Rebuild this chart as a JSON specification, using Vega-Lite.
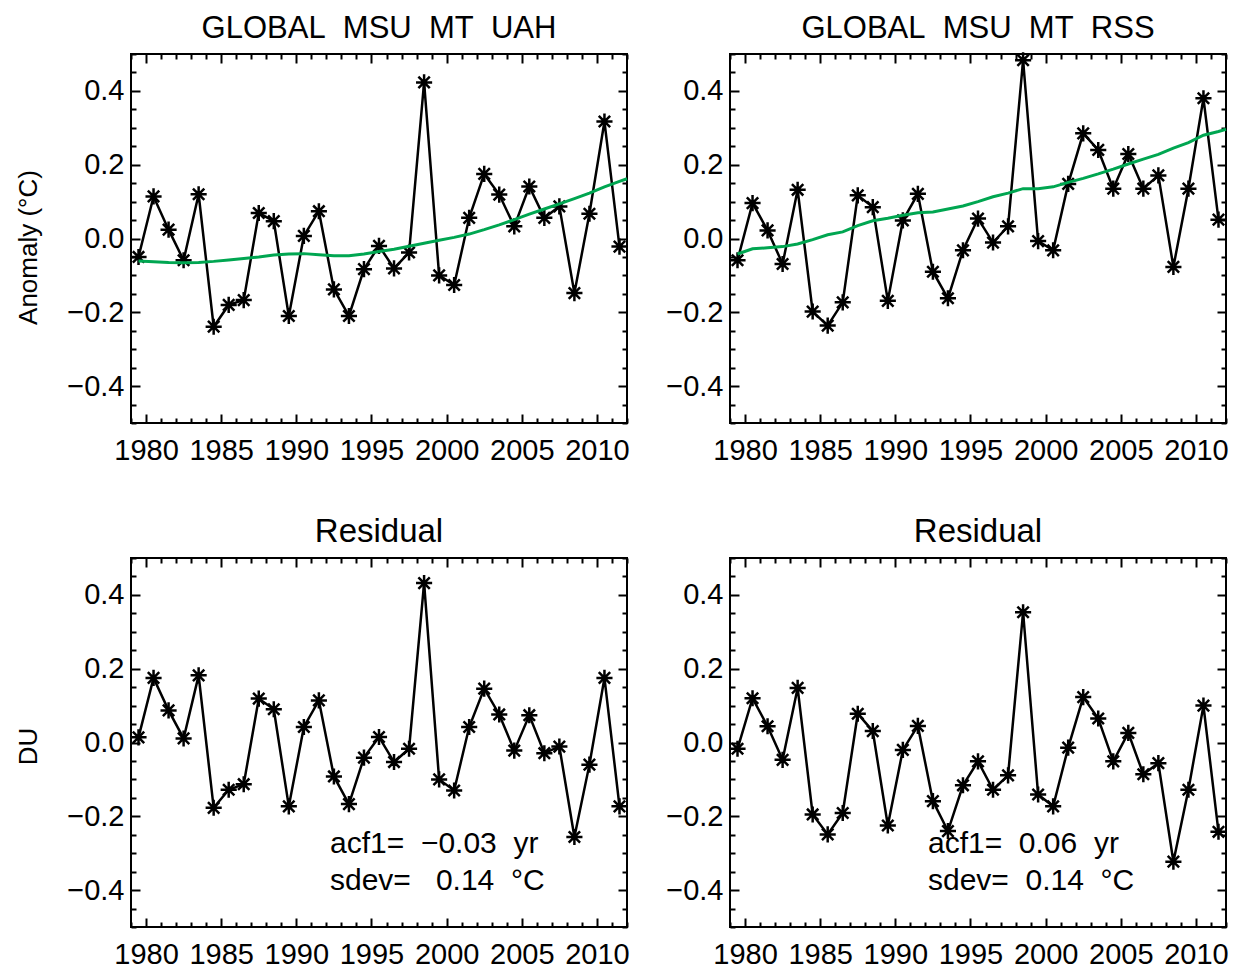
{
  "$schema": "https://vega.github.io/schema/vega-lite/v6.json",
  "padding": {"left": 14, "top": 12, "right": 4, "bottom": 0},
  "background": "white",
  "datasets": {
    "uah": [
      {"t": 1979.5, "v": -0.05}, {"t": 1980.5, "v": 0.114}, {"t": 1981.5, "v": 0.024}, {"t": 1982.5, "v": -0.059},
      {"t": 1983.5, "v": 0.12}, {"t": 1984.5, "v": -0.239}, {"t": 1985.5, "v": -0.18}, {"t": 1986.5, "v": -0.167},
      {"t": 1987.5, "v": 0.069}, {"t": 1988.5, "v": 0.047}, {"t": 1989.5, "v": -0.21}, {"t": 1990.5, "v": 0.007},
      {"t": 1991.5, "v": 0.074}, {"t": 1992.5, "v": -0.138}, {"t": 1993.5, "v": -0.21}, {"t": 1994.5, "v": -0.083},
      {"t": 1995.5, "v": -0.02}, {"t": 1996.5, "v": -0.081}, {"t": 1997.5, "v": -0.038}, {"t": 1998.5, "v": 0.423},
      {"t": 1999.5, "v": -0.1}, {"t": 2000.5, "v": -0.126}, {"t": 2001.5, "v": 0.056}, {"t": 2002.5, "v": 0.175},
      {"t": 2003.5, "v": 0.119}, {"t": 2004.5, "v": 0.033}, {"t": 2005.5, "v": 0.141}, {"t": 2006.5, "v": 0.056},
      {"t": 2007.5, "v": 0.087}, {"t": 2008.5, "v": -0.148}, {"t": 2009.5, "v": 0.067}, {"t": 2010.5, "v": 0.317},
      {"t": 2011.5, "v": -0.022}
    ],
    "uah_trend": [
      {"t": 1979.5, "v": -0.061}, {"t": 1980.5, "v": -0.063}, {"t": 1981.5, "v": -0.065}, {"t": 1982.5, "v": -0.066},
      {"t": 1983.5, "v": -0.065}, {"t": 1984.5, "v": -0.062}, {"t": 1985.5, "v": -0.058}, {"t": 1986.5, "v": -0.054},
      {"t": 1987.5, "v": -0.05}, {"t": 1988.5, "v": -0.045}, {"t": 1989.5, "v": -0.042}, {"t": 1990.5, "v": -0.041},
      {"t": 1991.5, "v": -0.044}, {"t": 1992.5, "v": -0.047}, {"t": 1993.5, "v": -0.047}, {"t": 1994.5, "v": -0.042},
      {"t": 1995.5, "v": -0.035}, {"t": 1996.5, "v": -0.029}, {"t": 1997.5, "v": -0.021}, {"t": 1998.5, "v": -0.013},
      {"t": 1999.5, "v": -0.005}, {"t": 2000.5, "v": 0.003}, {"t": 2001.5, "v": 0.012}, {"t": 2002.5, "v": 0.024},
      {"t": 2003.5, "v": 0.037}, {"t": 2004.5, "v": 0.051}, {"t": 2005.5, "v": 0.066}, {"t": 2006.5, "v": 0.08},
      {"t": 2007.5, "v": 0.094}, {"t": 2008.5, "v": 0.108}, {"t": 2009.5, "v": 0.123}, {"t": 2010.5, "v": 0.14},
      {"t": 2011.5, "v": 0.155}, {"t": 2012, "v": 0.162}
    ],
    "rss": [
      {"t": 1979.5, "v": -0.059}, {"t": 1980.5, "v": 0.096}, {"t": 1981.5, "v": 0.022}, {"t": 1982.5, "v": -0.069},
      {"t": 1983.5, "v": 0.132}, {"t": 1984.5, "v": -0.198}, {"t": 1985.5, "v": -0.236}, {"t": 1986.5, "v": -0.173},
      {"t": 1987.5, "v": 0.117}, {"t": 1988.5, "v": 0.085}, {"t": 1989.5, "v": -0.169}, {"t": 1990.5, "v": 0.049},
      {"t": 1991.5, "v": 0.121}, {"t": 1992.5, "v": -0.09}, {"t": 1993.5, "v": -0.162}, {"t": 1994.5, "v": -0.032},
      {"t": 1995.5, "v": 0.054}, {"t": 1996.5, "v": -0.011}, {"t": 1997.5, "v": 0.033}, {"t": 1998.5, "v": 0.483},
      {"t": 1999.5, "v": -0.007}, {"t": 2000.5, "v": -0.032}, {"t": 2001.5, "v": 0.148}, {"t": 2002.5, "v": 0.285},
      {"t": 2003.5, "v": 0.24}, {"t": 2004.5, "v": 0.135}, {"t": 2005.5, "v": 0.229}, {"t": 2006.5, "v": 0.135},
      {"t": 2007.5, "v": 0.171}, {"t": 2008.5, "v": -0.077}, {"t": 2009.5, "v": 0.135}, {"t": 2010.5, "v": 0.38},
      {"t": 2011.5, "v": 0.051}
    ],
    "rss_trend": [
      {"t": 1979.5, "v": -0.042}, {"t": 1980.5, "v": -0.028}, {"t": 1981.5, "v": -0.025}, {"t": 1982.5, "v": -0.022},
      {"t": 1983.5, "v": -0.015}, {"t": 1984.5, "v": -0.003}, {"t": 1985.5, "v": 0.01}, {"t": 1986.5, "v": 0.018},
      {"t": 1987.5, "v": 0.035}, {"t": 1988.5, "v": 0.048}, {"t": 1989.5, "v": 0.055}, {"t": 1990.5, "v": 0.063},
      {"t": 1991.5, "v": 0.07}, {"t": 1992.5, "v": 0.072}, {"t": 1993.5, "v": 0.08}, {"t": 1994.5, "v": 0.088},
      {"t": 1995.5, "v": 0.1}, {"t": 1996.5, "v": 0.113}, {"t": 1997.5, "v": 0.123}, {"t": 1998.5, "v": 0.135},
      {"t": 1999.5, "v": 0.135}, {"t": 2000.5, "v": 0.14}, {"t": 2001.5, "v": 0.152}, {"t": 2002.5, "v": 0.163},
      {"t": 2003.5, "v": 0.175}, {"t": 2004.5, "v": 0.188}, {"t": 2005.5, "v": 0.202}, {"t": 2006.5, "v": 0.215},
      {"t": 2007.5, "v": 0.228}, {"t": 2008.5, "v": 0.245}, {"t": 2009.5, "v": 0.26}, {"t": 2010.5, "v": 0.28},
      {"t": 2011.5, "v": 0.29}, {"t": 2012, "v": 0.296}
    ],
    "uah_res": [
      {"t": 1979.5, "v": 0.014}, {"t": 1980.5, "v": 0.175}, {"t": 1981.5, "v": 0.087}, {"t": 1982.5, "v": 0.011},
      {"t": 1983.5, "v": 0.182}, {"t": 1984.5, "v": -0.177}, {"t": 1985.5, "v": -0.128}, {"t": 1986.5, "v": -0.113},
      {"t": 1987.5, "v": 0.119}, {"t": 1988.5, "v": 0.09}, {"t": 1989.5, "v": -0.173}, {"t": 1990.5, "v": 0.042},
      {"t": 1991.5, "v": 0.114}, {"t": 1992.5, "v": -0.092}, {"t": 1993.5, "v": -0.167}, {"t": 1994.5, "v": -0.041},
      {"t": 1995.5, "v": 0.015}, {"t": 1996.5, "v": -0.053}, {"t": 1997.5, "v": -0.017}, {"t": 1998.5, "v": 0.432},
      {"t": 1999.5, "v": -0.1}, {"t": 2000.5, "v": -0.13}, {"t": 2001.5, "v": 0.042}, {"t": 2002.5, "v": 0.146},
      {"t": 2003.5, "v": 0.076}, {"t": 2004.5, "v": -0.022}, {"t": 2005.5, "v": 0.074}, {"t": 2006.5, "v": -0.029},
      {"t": 2007.5, "v": -0.011}, {"t": 2008.5, "v": -0.256}, {"t": 2009.5, "v": -0.06}, {"t": 2010.5, "v": 0.175},
      {"t": 2011.5, "v": -0.173}
    ],
    "rss_res": [
      {"t": 1979.5, "v": -0.017}, {"t": 1980.5, "v": 0.12}, {"t": 1981.5, "v": 0.044}, {"t": 1982.5, "v": -0.047},
      {"t": 1983.5, "v": 0.148}, {"t": 1984.5, "v": -0.195}, {"t": 1985.5, "v": -0.249}, {"t": 1986.5, "v": -0.191},
      {"t": 1987.5, "v": 0.078}, {"t": 1988.5, "v": 0.031}, {"t": 1989.5, "v": -0.225}, {"t": 1990.5, "v": -0.02},
      {"t": 1991.5, "v": 0.045}, {"t": 1992.5, "v": -0.159}, {"t": 1993.5, "v": -0.24}, {"t": 1994.5, "v": -0.116},
      {"t": 1995.5, "v": -0.051}, {"t": 1996.5, "v": -0.128}, {"t": 1997.5, "v": -0.089}, {"t": 1998.5, "v": 0.353},
      {"t": 1999.5, "v": -0.141}, {"t": 2000.5, "v": -0.173}, {"t": 2001.5, "v": -0.014}, {"t": 2002.5, "v": 0.123},
      {"t": 2003.5, "v": 0.065}, {"t": 2004.5, "v": -0.051}, {"t": 2005.5, "v": 0.026}, {"t": 2006.5, "v": -0.086},
      {"t": 2007.5, "v": -0.056}, {"t": 2008.5, "v": -0.323}, {"t": 2009.5, "v": -0.128}, {"t": 2010.5, "v": 0.1},
      {"t": 2011.5, "v": -0.242}
    ],
    "ann_l": [
      {"t": 1992.24, "v": -0.275, "label": "acf1=\u00a0\u00a0\u22120.03\u00a0\u00a0yr"},
      {"t": 1992.24, "v": -0.375, "label": "sdev=\u00a0\u00a0\u00a00.14\u00a0\u00a0°C"}
    ],
    "ann_r": [
      {"t": 1992.17, "v": -0.275, "label": "acf1=\u00a0\u00a00.06\u00a0\u00a0yr"},
      {"t": 1992.17, "v": -0.375, "label": "sdev=\u00a0\u00a00.14\u00a0\u00a0°C"}
    ]
  },
  "columns": 2,
  "spacing": {"row": 135, "column": 103},
  "bounds": "flush",
  "concat": [
    {
      "width": 496, "height": 369,
      "title": {"text": "GLOBAL\u00a0\u00a0MSU\u00a0\u00a0MT\u00a0\u00a0UAH"},
      "layer": [
        {"data": {"name": "uah"}, "mark": {"type": "line", "color": "black", "strokeWidth": 2.5},
         "encoding": {
           "x": {"field": "t", "type": "quantitative", "scale": {"domain": [1979, 2012], "nice": false, "zero": false},
                 "axis": {"orient": "bottom", "title": null, "values": [1979,1980,1981,1982,1983,1984,1985,1986,1987,1988,1989,1990,1991,1992,1993,1994,1995,1996,1997,1998,1999,2000,2001,2002,2003,2004,2005,2006,2007,2008,2009,2010,2011,2012], "format": "d", "labelExpr": "datum.value % 5 === 0 ? datum.label : ''", "tickSize": {"condition": {"test": "datum.value % 5 === 0", "value": -9}, "value": -5}, "labelPadding": 22, "labelOverlap": false, "labelFlush": false}},
           "y": {"field": "v", "type": "quantitative", "scale": {"domain": [-0.5, 0.5], "nice": false, "zero": false},
                 "axis": {"orient": "left", "title": "Anomaly (°C)", "titleY": 193, "values": [-0.5,-0.45,-0.4,-0.35,-0.3,-0.25,-0.2,-0.15,-0.1,-0.05,0,0.05,0.1,0.15,0.2,0.25,0.3,0.35,0.4,0.45,0.5], "format": ".1f", "labelExpr": "abs(round(datum.value*100)) % 20 === 0 ? datum.label : ''", "tickSize": {"condition": {"test": "abs(round(datum.value*100)) % 20 === 0", "value": -9}, "value": -5}, "labelPadding": 16, "labelOverlap": false, "labelFlush": false}}
         }},
        {"data": {"name": "uah"}, "mark": {"type": "point", "shape": "M-1,0L1,0M0,-1L0,1M-0.7071,-0.7071L0.7071,0.7071M-0.7071,0.7071L0.7071,-0.7071", "size": 260, "filled": false, "stroke": "black", "strokeWidth": 2.5, "opacity": 1},
         "encoding": {
           "x": {"field": "t", "type": "quantitative", "axis": {"orient": "top", "title": null, "labels": false, "values": [1979,1980,1981,1982,1983,1984,1985,1986,1987,1988,1989,1990,1991,1992,1993,1994,1995,1996,1997,1998,1999,2000,2001,2002,2003,2004,2005,2006,2007,2008,2009,2010,2011,2012], "tickSize": {"condition": {"test": "datum.value % 5 === 0", "value": -9}, "value": -5}}},
           "y": {"field": "v", "type": "quantitative", "axis": {"orient": "right", "title": null, "labels": false, "values": [-0.5,-0.45,-0.4,-0.35,-0.3,-0.25,-0.2,-0.15,-0.1,-0.05,0,0.05,0.1,0.15,0.2,0.25,0.3,0.35,0.4,0.45,0.5], "tickSize": {"condition": {"test": "abs(round(datum.value*100)) % 20 === 0", "value": -9}, "value": -5}}}
         }},
        {"data": {"name": "uah_trend"}, "mark": {"type": "line", "color": "#00a651", "strokeWidth": 3},
         "encoding": {"x": {"field": "t", "type": "quantitative", "axis": null}, "y": {"field": "v", "type": "quantitative", "axis": null}}}
      ],
      "resolve": {"axis": {"x": "independent", "y": "independent"}}
    },
    {
      "width": 496, "height": 369,
      "title": {"text": "GLOBAL\u00a0\u00a0MSU\u00a0\u00a0MT\u00a0\u00a0RSS"},
      "layer": [
        {"data": {"name": "rss"}, "mark": {"type": "line", "color": "black", "strokeWidth": 2.5},
         "encoding": {
           "x": {"field": "t", "type": "quantitative", "scale": {"domain": [1979, 2012], "nice": false, "zero": false},
                 "axis": {"orient": "bottom", "title": null, "values": [1979,1980,1981,1982,1983,1984,1985,1986,1987,1988,1989,1990,1991,1992,1993,1994,1995,1996,1997,1998,1999,2000,2001,2002,2003,2004,2005,2006,2007,2008,2009,2010,2011,2012], "format": "d", "labelExpr": "datum.value % 5 === 0 ? datum.label : ''", "tickSize": {"condition": {"test": "datum.value % 5 === 0", "value": -9}, "value": -5}, "labelPadding": 22, "labelOverlap": false, "labelFlush": false}},
           "y": {"field": "v", "type": "quantitative", "scale": {"domain": [-0.5, 0.5], "nice": false, "zero": false},
                 "axis": {"orient": "left", "title": null, "values": [-0.5,-0.45,-0.4,-0.35,-0.3,-0.25,-0.2,-0.15,-0.1,-0.05,0,0.05,0.1,0.15,0.2,0.25,0.3,0.35,0.4,0.45,0.5], "format": ".1f", "labelExpr": "abs(round(datum.value*100)) % 20 === 0 ? datum.label : ''", "tickSize": {"condition": {"test": "abs(round(datum.value*100)) % 20 === 0", "value": -9}, "value": -5}, "labelPadding": 16, "labelOverlap": false, "labelFlush": false}}
         }},
        {"data": {"name": "rss"}, "mark": {"type": "point", "shape": "M-1,0L1,0M0,-1L0,1M-0.7071,-0.7071L0.7071,0.7071M-0.7071,0.7071L0.7071,-0.7071", "size": 260, "filled": false, "stroke": "black", "strokeWidth": 2.5, "opacity": 1},
         "encoding": {
           "x": {"field": "t", "type": "quantitative", "axis": {"orient": "top", "title": null, "labels": false, "values": [1979,1980,1981,1982,1983,1984,1985,1986,1987,1988,1989,1990,1991,1992,1993,1994,1995,1996,1997,1998,1999,2000,2001,2002,2003,2004,2005,2006,2007,2008,2009,2010,2011,2012], "tickSize": {"condition": {"test": "datum.value % 5 === 0", "value": -9}, "value": -5}}},
           "y": {"field": "v", "type": "quantitative", "axis": {"orient": "right", "title": null, "labels": false, "values": [-0.5,-0.45,-0.4,-0.35,-0.3,-0.25,-0.2,-0.15,-0.1,-0.05,0,0.05,0.1,0.15,0.2,0.25,0.3,0.35,0.4,0.45,0.5], "tickSize": {"condition": {"test": "abs(round(datum.value*100)) % 20 === 0", "value": -9}, "value": -5}}}
         }},
        {"data": {"name": "rss_trend"}, "mark": {"type": "line", "color": "#00a651", "strokeWidth": 3},
         "encoding": {"x": {"field": "t", "type": "quantitative", "axis": null}, "y": {"field": "v", "type": "quantitative", "axis": null}}}
      ],
      "resolve": {"axis": {"x": "independent", "y": "independent"}}
    },
    {
      "width": 496, "height": 369,
      "title": {"text": "Residual", "fontSize": 33},
      "layer": [
        {"data": {"name": "uah_res"}, "mark": {"type": "line", "color": "black", "strokeWidth": 2.5},
         "encoding": {
           "x": {"field": "t", "type": "quantitative", "scale": {"domain": [1979, 2012], "nice": false, "zero": false},
                 "axis": {"orient": "bottom", "title": null, "values": [1979,1980,1981,1982,1983,1984,1985,1986,1987,1988,1989,1990,1991,1992,1993,1994,1995,1996,1997,1998,1999,2000,2001,2002,2003,2004,2005,2006,2007,2008,2009,2010,2011,2012], "format": "d", "labelExpr": "datum.value % 5 === 0 ? datum.label : ''", "tickSize": {"condition": {"test": "datum.value % 5 === 0", "value": -9}, "value": -5}, "labelPadding": 22, "labelOverlap": false, "labelFlush": false}},
           "y": {"field": "v", "type": "quantitative", "scale": {"domain": [-0.5, 0.5], "nice": false, "zero": false},
                 "axis": {"orient": "left", "title": "DU", "titleY": 188, "values": [-0.5,-0.45,-0.4,-0.35,-0.3,-0.25,-0.2,-0.15,-0.1,-0.05,0,0.05,0.1,0.15,0.2,0.25,0.3,0.35,0.4,0.45,0.5], "format": ".1f", "labelExpr": "abs(round(datum.value*100)) % 20 === 0 ? datum.label : ''", "tickSize": {"condition": {"test": "abs(round(datum.value*100)) % 20 === 0", "value": -9}, "value": -5}, "labelPadding": 16, "labelOverlap": false, "labelFlush": false}}
         }},
        {"data": {"name": "uah_res"}, "mark": {"type": "point", "shape": "M-1,0L1,0M0,-1L0,1M-0.7071,-0.7071L0.7071,0.7071M-0.7071,0.7071L0.7071,-0.7071", "size": 260, "filled": false, "stroke": "black", "strokeWidth": 2.5, "opacity": 1},
         "encoding": {
           "x": {"field": "t", "type": "quantitative", "axis": {"orient": "top", "title": null, "labels": false, "values": [1979,1980,1981,1982,1983,1984,1985,1986,1987,1988,1989,1990,1991,1992,1993,1994,1995,1996,1997,1998,1999,2000,2001,2002,2003,2004,2005,2006,2007,2008,2009,2010,2011,2012], "tickSize": {"condition": {"test": "datum.value % 5 === 0", "value": -9}, "value": -5}}},
           "y": {"field": "v", "type": "quantitative", "axis": {"orient": "right", "title": null, "labels": false, "values": [-0.5,-0.45,-0.4,-0.35,-0.3,-0.25,-0.2,-0.15,-0.1,-0.05,0,0.05,0.1,0.15,0.2,0.25,0.3,0.35,0.4,0.45,0.5], "tickSize": {"condition": {"test": "abs(round(datum.value*100)) % 20 === 0", "value": -9}, "value": -5}}}
         }},
        {"data": {"name": "ann_l"}, "mark": {"type": "text", "align": "left", "baseline": "middle", "fontSize": 30, "font": "Liberation Sans", "color": "black"},
         "encoding": {"x": {"field": "t", "type": "quantitative", "axis": null}, "y": {"field": "v", "type": "quantitative", "axis": null}, "text": {"field": "label"}}}
      ],
      "resolve": {"axis": {"x": "independent", "y": "independent"}}
    },
    {
      "width": 496, "height": 369,
      "title": {"text": "Residual", "fontSize": 33},
      "layer": [
        {"data": {"name": "rss_res"}, "mark": {"type": "line", "color": "black", "strokeWidth": 2.5},
         "encoding": {
           "x": {"field": "t", "type": "quantitative", "scale": {"domain": [1979, 2012], "nice": false, "zero": false},
                 "axis": {"orient": "bottom", "title": null, "values": [1979,1980,1981,1982,1983,1984,1985,1986,1987,1988,1989,1990,1991,1992,1993,1994,1995,1996,1997,1998,1999,2000,2001,2002,2003,2004,2005,2006,2007,2008,2009,2010,2011,2012], "format": "d", "labelExpr": "datum.value % 5 === 0 ? datum.label : ''", "tickSize": {"condition": {"test": "datum.value % 5 === 0", "value": -9}, "value": -5}, "labelPadding": 22, "labelOverlap": false, "labelFlush": false}},
           "y": {"field": "v", "type": "quantitative", "scale": {"domain": [-0.5, 0.5], "nice": false, "zero": false},
                 "axis": {"orient": "left", "title": null, "values": [-0.5,-0.45,-0.4,-0.35,-0.3,-0.25,-0.2,-0.15,-0.1,-0.05,0,0.05,0.1,0.15,0.2,0.25,0.3,0.35,0.4,0.45,0.5], "format": ".1f", "labelExpr": "abs(round(datum.value*100)) % 20 === 0 ? datum.label : ''", "tickSize": {"condition": {"test": "abs(round(datum.value*100)) % 20 === 0", "value": -9}, "value": -5}, "labelPadding": 16, "labelOverlap": false, "labelFlush": false}}
         }},
        {"data": {"name": "rss_res"}, "mark": {"type": "point", "shape": "M-1,0L1,0M0,-1L0,1M-0.7071,-0.7071L0.7071,0.7071M-0.7071,0.7071L0.7071,-0.7071", "size": 260, "filled": false, "stroke": "black", "strokeWidth": 2.5, "opacity": 1},
         "encoding": {
           "x": {"field": "t", "type": "quantitative", "axis": {"orient": "top", "title": null, "labels": false, "values": [1979,1980,1981,1982,1983,1984,1985,1986,1987,1988,1989,1990,1991,1992,1993,1994,1995,1996,1997,1998,1999,2000,2001,2002,2003,2004,2005,2006,2007,2008,2009,2010,2011,2012], "tickSize": {"condition": {"test": "datum.value % 5 === 0", "value": -9}, "value": -5}}},
           "y": {"field": "v", "type": "quantitative", "axis": {"orient": "right", "title": null, "labels": false, "values": [-0.5,-0.45,-0.4,-0.35,-0.3,-0.25,-0.2,-0.15,-0.1,-0.05,0,0.05,0.1,0.15,0.2,0.25,0.3,0.35,0.4,0.45,0.5], "tickSize": {"condition": {"test": "abs(round(datum.value*100)) % 20 === 0", "value": -9}, "value": -5}}}
         }},
        {"data": {"name": "ann_r"}, "mark": {"type": "text", "align": "left", "baseline": "middle", "fontSize": 30, "font": "Liberation Sans", "color": "black"},
         "encoding": {"x": {"field": "t", "type": "quantitative", "axis": null}, "y": {"field": "v", "type": "quantitative", "axis": null}, "text": {"field": "label"}}}
      ],
      "resolve": {"axis": {"x": "independent", "y": "independent"}}
    }
  ],
  "config": {
    "font": "Liberation Sans",
    "view": {"stroke": "black", "strokeWidth": 2},
    "axis": {
      "domain": false, "grid": false,
      "tickColor": "black", "tickWidth": 2,
      "labelFont": "Liberation Sans", "labelFontSize": 29, "labelColor": "black",
      "titleFont": "Liberation Sans", "titleFontSize": 26, "titleFontWeight": "normal", "titleColor": "black", "titlePadding": 25
    },
    "title": {"font": "Liberation Sans", "fontSize": 31, "fontWeight": "normal", "color": "black", "offset": -5, "anchor": "middle"}
  }
}
